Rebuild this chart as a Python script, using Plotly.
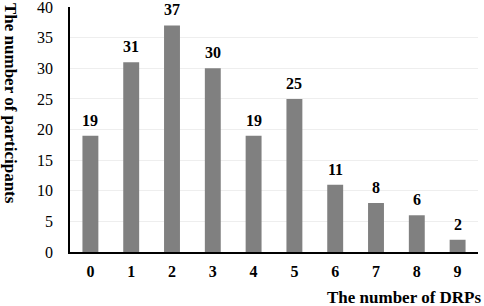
import plotly.graph_objects as go

categories = ["0", "1", "2", "3", "4", "5", "6", "7", "8", "9"]
participants = [19, 31, 37, 30, 19, 25, 11, 8, 6, 2]
y_ticks = [0, 5, 10, 15, 20, 25, 30, 35, 40]

font_family = "Liberation Serif, Times New Roman, serif"

fig = go.Figure(go.Bar(
    x=categories, y=participants,
    marker=dict(color="#808080", line=dict(width=0)),
    width=0.39,
    hoverinfo="x+y",
))

# value labels above bars
for c, v in zip(categories, participants):
    fig.add_annotation(
        x=c, y=v, xref="x", yref="y", text=f"<b>{v}</b>",
        showarrow=False, yanchor="bottom", yshift=5,
        font=dict(family=font_family, size=16, color="black"),
    )

fig.update_layout(
    width=484, height=306,
    margin=dict(l=70, r=6, t=7, b=54),
    paper_bgcolor="white", plot_bgcolor="white",
    font=dict(family=font_family, size=16, color="black"),
    showlegend=False,
)
fig.update_xaxes(
    type="category", range=[-0.5, 9.5], automargin=False,
    showline=True, linecolor="black", linewidth=1.5,
    ticks="", tickfont=dict(family=font_family, size=16, color="black"),
    tickprefix="<b>", ticksuffix="</b>",
    ticklabelstandoff=4,
)
fig.update_yaxes(
    range=[0, 40.02], tickvals=y_ticks, automargin=False,
    showline=True, linecolor="black", linewidth=1.5,
    showgrid=True, gridcolor="#eeeeee", gridwidth=1,
    zeroline=False, ticks="", ticklabeloverflow="allow",
    tickfont=dict(family=font_family, size=16, color="black"),
    tickprefix="<b>", ticksuffix="</b>",
    ticklabelstandoff=12,
)
fig.add_annotation(
    text="<b>The number of DRPs</b>", xref="paper", yref="paper",
    x=1, xshift=5, y=0, yshift=-45, xanchor="right", yanchor="middle",
    showarrow=False, font=dict(family=font_family, size=17, color="black"),
)
fig.add_annotation(
    text="<b>The number of participants</b>", xref="paper", yref="paper",
    x=0, xshift=-71, y=1, yshift=6, xanchor="left", yanchor="top", textangle=90,
    showarrow=False, font=dict(family=font_family, size=17, color="black"),
)
fig.write_html("out.html", config={"displayModeBar": False},
               post_script="document.body.style.margin='0';")
